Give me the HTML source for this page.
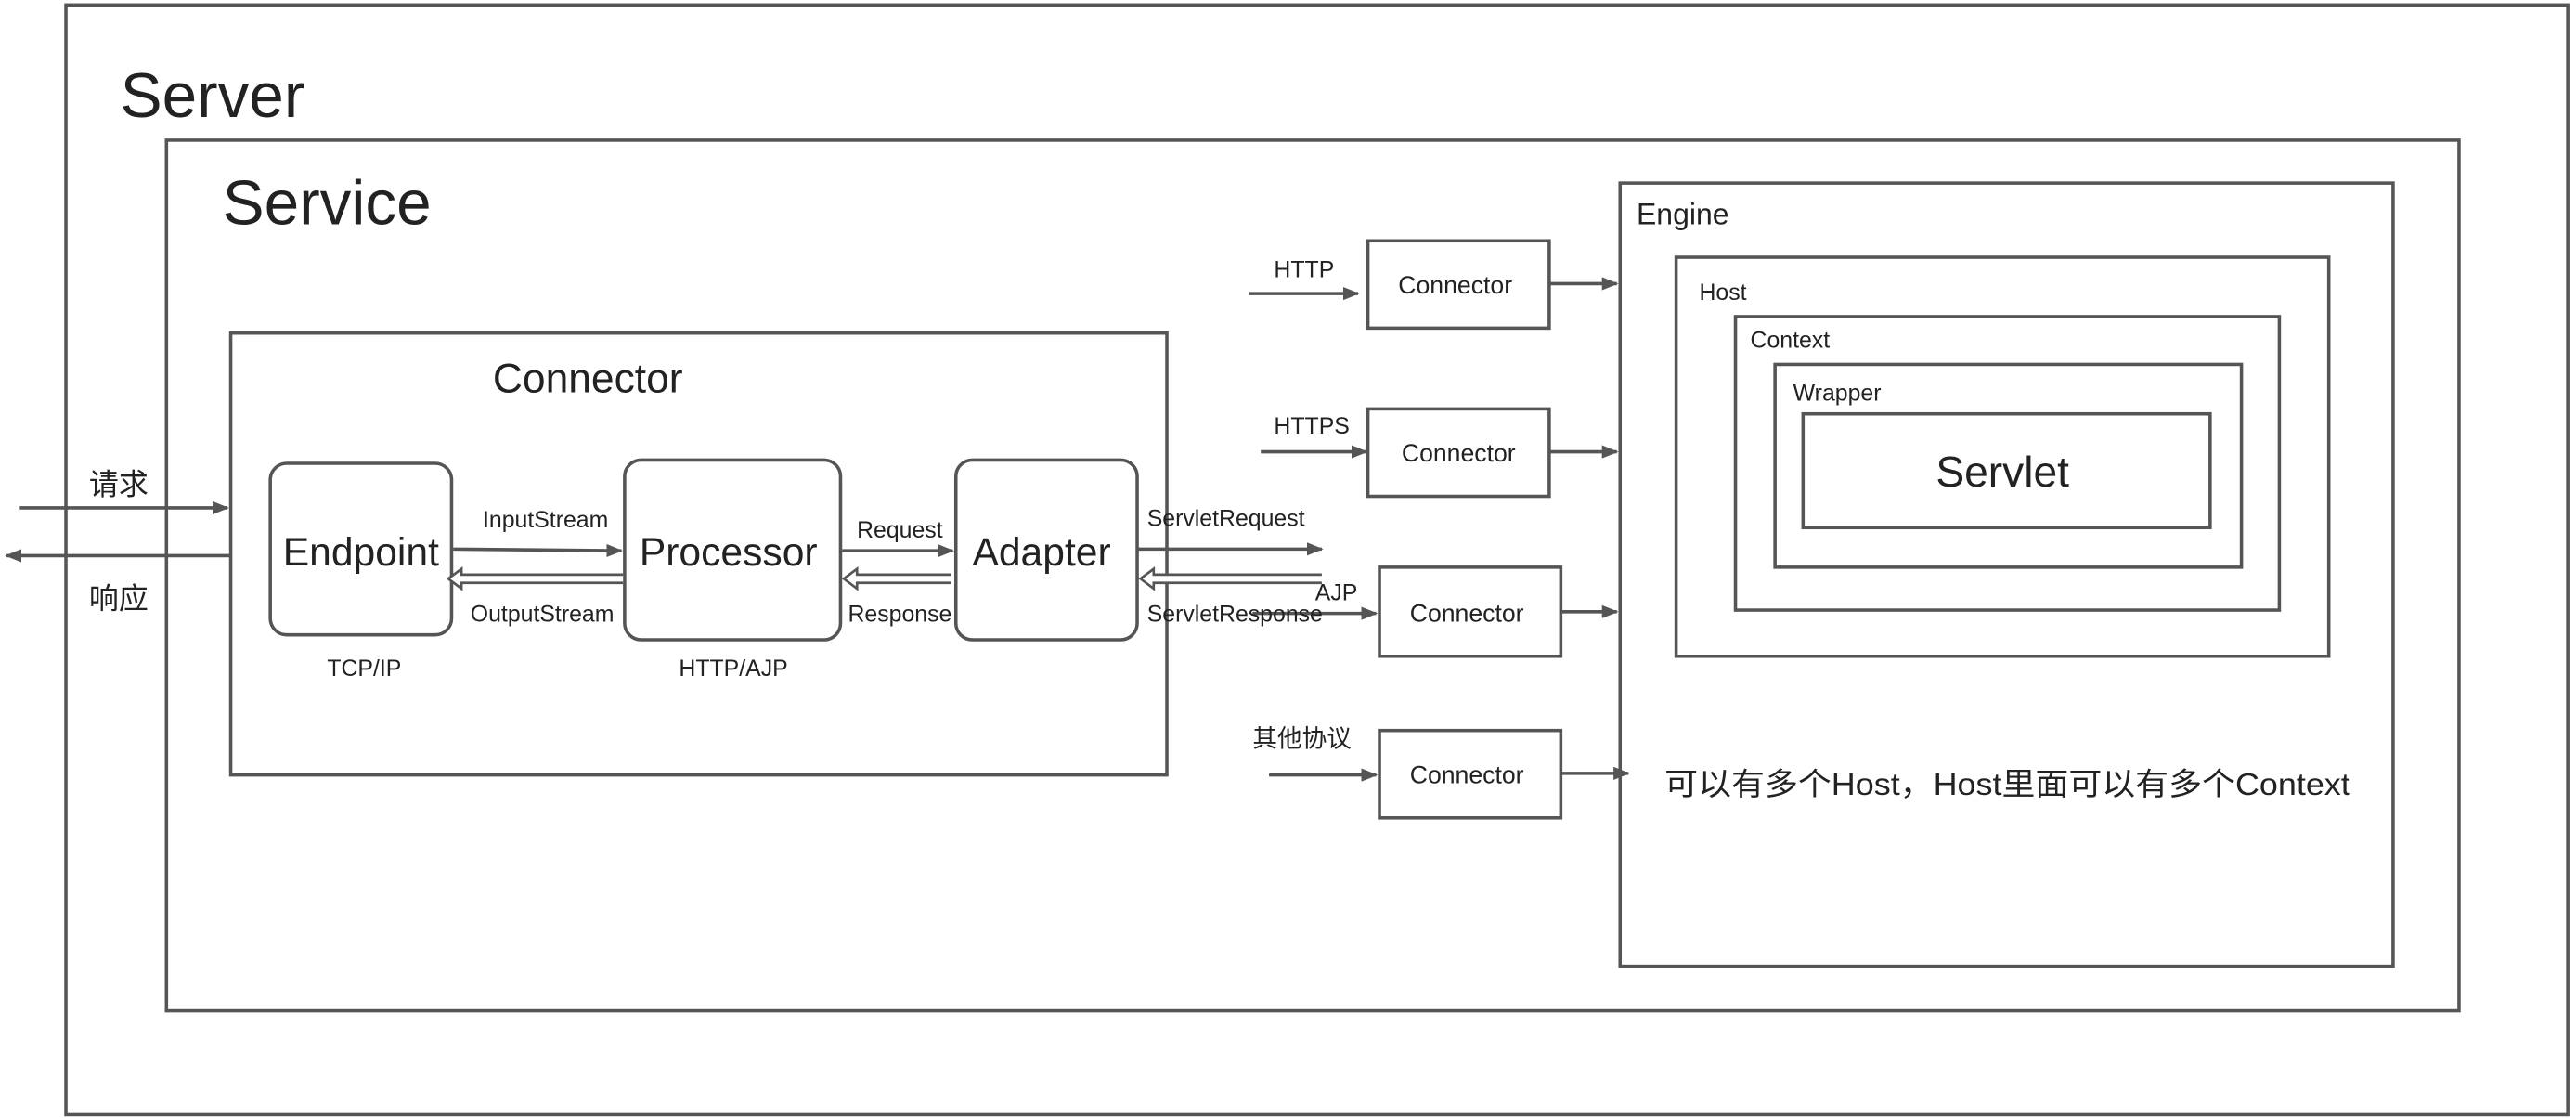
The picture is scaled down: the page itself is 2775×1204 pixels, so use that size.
<!DOCTYPE html>
<html><head><meta charset="utf-8"><style>
html,body{margin:0;padding:0;background:#fff;}
svg{display:block;}
text{font-family:"Liberation Sans","Noto Sans CJK SC",sans-serif;fill:#222;}
</style></head><body>
<svg width="2775" height="1204" viewBox="0 0 1563 678" preserveAspectRatio="none" xmlns="http://www.w3.org/2000/svg">
<defs>
<marker id="a" markerWidth="10" markerHeight="8" refX="9" refY="4" orient="auto" markerUnits="userSpaceOnUse">
<path d="M0,0 L10,4 L0,8 Z" fill="#555"/></marker>
</defs>
<g fill="none" stroke="#555" stroke-width="2">
<rect x="40" y="3" width="1518" height="673"/>
<rect x="101" y="85" width="1391" height="528"/>
<rect x="140" y="202" width="568" height="268"/>
<rect x="164" y="281" width="110" height="104" rx="10"/>
<rect x="379" y="279" width="131" height="109" rx="10"/>
<rect x="580" y="279" width="110" height="109" rx="10"/>
<rect x="983" y="111" width="469" height="475"/>
<rect x="1017" y="156" width="396" height="242"/>
<rect x="1053" y="192" width="330" height="178"/>
<rect x="1077" y="221" width="283" height="123"/>
<rect x="1094" y="251" width="247" height="69"/>
<rect x="830" y="146" width="110" height="53"/>
<rect x="830" y="248" width="110" height="53"/>
<rect x="837" y="344" width="110" height="54"/>
<rect x="837" y="443" width="110" height="53"/>
</g>
<g stroke="#555" stroke-width="2" fill="none">
<line x1="12" y1="308" x2="138" y2="308" marker-end="url(#a)"/>
<line x1="140" y1="337" x2="4" y2="337" marker-end="url(#a)"/>
<line x1="275" y1="333" x2="377" y2="334" marker-end="url(#a)"/>
<line x1="511" y1="334" x2="578" y2="334" marker-end="url(#a)"/>
<line x1="690" y1="333" x2="802" y2="333" marker-end="url(#a)"/>
<line x1="758" y1="178" x2="824" y2="178" marker-end="url(#a)"/>
<line x1="765" y1="274" x2="829" y2="274" marker-end="url(#a)"/>
<line x1="760" y1="372" x2="835" y2="372" marker-end="url(#a)"/>
<line x1="770" y1="470" x2="835" y2="470" marker-end="url(#a)"/>
<line x1="940" y1="172" x2="981" y2="172" marker-end="url(#a)"/>
<line x1="940" y1="274" x2="981" y2="274" marker-end="url(#a)"/>
<line x1="947" y1="371" x2="981" y2="371" marker-end="url(#a)"/>
<line x1="947" y1="469" x2="988" y2="469" marker-end="url(#a)"/>
</g>
<g stroke="#555" stroke-width="1.5" fill="#fff">
<path d="M378,348.5 L280,348.5 L280,345 L272,351 L280,357 L280,353.5 L378,353.5"/>
<path d="M577,348.5 L520,348.5 L520,345 L512,351 L520,357 L520,353.5 L577,353.5"/>
<path d="M802,348.5 L700,348.5 L700,345 L692,351 L700,357 L700,353.5 L802,353.5"/>
</g>
<text x="73" y="71" font-size="38">Server</text>
<text x="135" y="136" font-size="38">Service</text>
<text x="299" y="238" font-size="25">Connector</text>
<text x="219" y="343" font-size="24" text-anchor="middle">Endpoint</text>
<text x="442" y="343" font-size="24" text-anchor="middle">Processor</text>
<text x="632" y="343" font-size="24" text-anchor="middle">Adapter</text>
<text x="221" y="410" font-size="14" text-anchor="middle">TCP/IP</text>
<text x="445" y="410" font-size="14" text-anchor="middle">HTTP/AJP</text>
<text x="72" y="300" font-size="18" text-anchor="middle">请求</text>
<text x="72" y="369" font-size="18" text-anchor="middle">响应</text>
<text x="331" y="320" font-size="14" text-anchor="middle">InputStream</text>
<text x="329" y="377" font-size="14" text-anchor="middle">OutputStream</text>
<text x="546" y="326" font-size="14" text-anchor="middle">Request</text>
<text x="546" y="377" font-size="14" text-anchor="middle">Response</text>
<text x="696" y="319" font-size="14">ServletRequest</text>
<text x="696" y="377" font-size="14">ServletResponse</text>
<text x="798" y="364" font-size="14">AJP</text>
<text x="773" y="168" font-size="14">HTTP</text>
<text x="773" y="263" font-size="14">HTTPS</text>
<text x="760" y="453" font-size="15">其他协议</text>
<text x="883" y="178" font-size="15" text-anchor="middle">Connector</text>
<text x="885" y="280" font-size="15" text-anchor="middle">Connector</text>
<text x="890" y="377" font-size="15" text-anchor="middle">Connector</text>
<text x="890" y="475" font-size="15" text-anchor="middle">Connector</text>
<text x="993" y="136" font-size="18">Engine</text>
<text x="1031" y="182" font-size="14">Host</text>
<text x="1062" y="211" font-size="14">Context</text>
<text x="1088" y="243" font-size="14">Wrapper</text>
<text x="1215" y="295" font-size="26" text-anchor="middle">Servlet</text>
<text x="1010" y="482" font-size="19" textLength="416" lengthAdjust="spacingAndGlyphs">可以有多个Host，Host里面可以有多个Context</text>
</svg>
</body></html>
